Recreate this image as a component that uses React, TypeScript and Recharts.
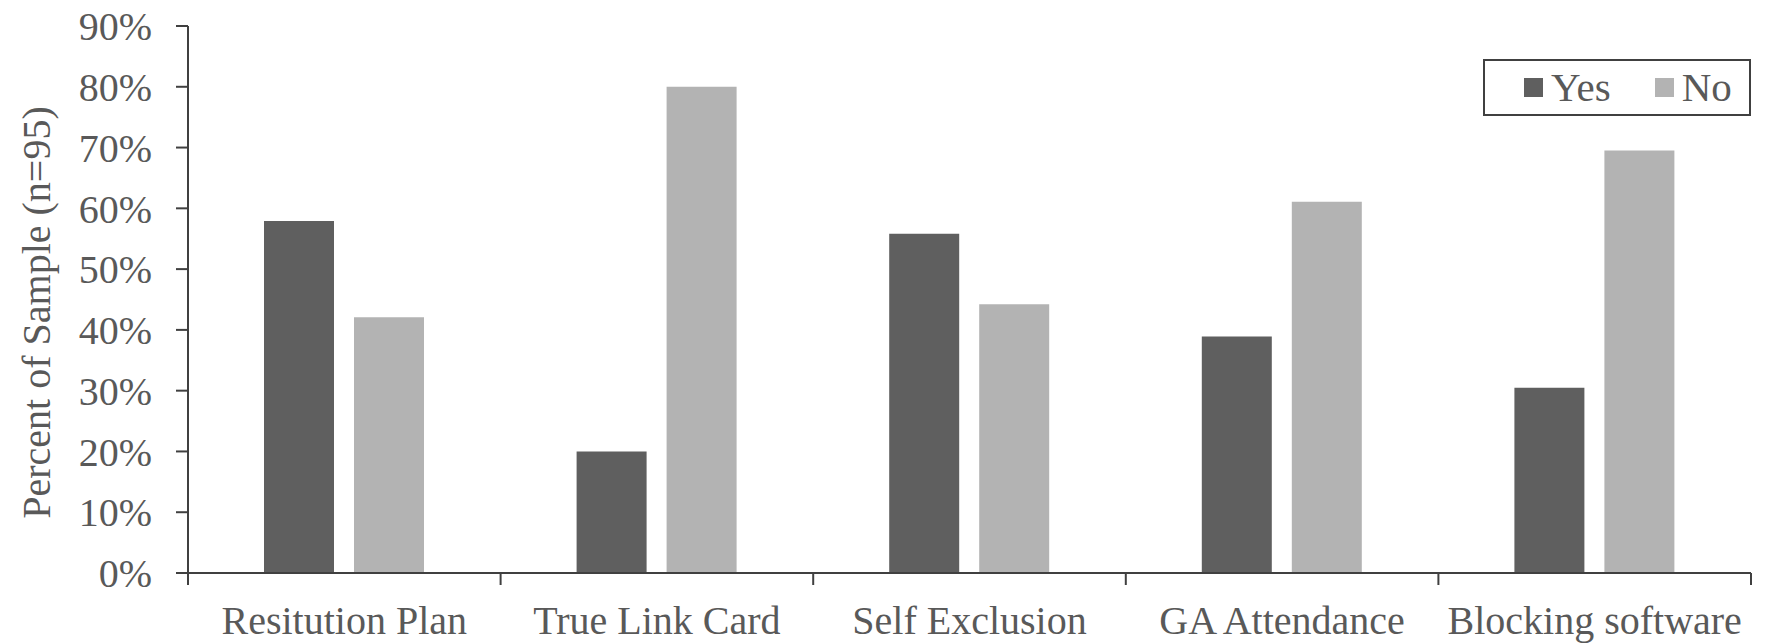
import { BarChart, Bar, XAxis, YAxis, Legend, Label } from "recharts";

const categories = [
  "Resitution Plan",
  "True Link Card",
  "Self Exclusion",
  "GA Attendance",
  "Blocking software",
];
const yes = [57.9, 20, 55.8, 38.9, 30.5];
const no = [42.1, 80, 44.2, 61.1, 69.5];
const seriesNames = ["Yes", "No"];
const percentTicks = [0, 10, 20, 30, 40, 50, 60, 70, 80, 90];

const data = categories.map((name, i) => ({ name, yes: yes[i], no: no[i] }));

const FONT = "'Liberation Serif', 'Times New Roman', serif";
const TEXT = "#595959";
const AXIS = "#404040";
const YES_FILL = "#5f5f5f";
const NO_FILL = "#b3b3b3";

// category label plus a tick mark on each band boundary
function CategoryTick(props: any) {
  const { x, y, payload, index, visibleTicksCount } = props;
  const half = payload.offset ?? 0;
  const left = x - half;
  const right = x + half;
  return (
    <g>
      <line x1={left} x2={left} y1={y} y2={y + 12} stroke={AXIS} strokeWidth={2} />
      {index === visibleTicksCount - 1 && (
        <line x1={right} x2={right} y1={y} y2={y + 12} stroke={AXIS} strokeWidth={2} />
      )}
      <text
        x={x}
        y={y + 33}
        dy="0.71em"
        textAnchor="middle"
        fill={TEXT}
        fontSize={40}
        fontFamily={FONT}
      >
        {payload.value}
      </text>
    </g>
  );
}

function LegendBox(props: any) {
  const items = (props.payload || [])
    .slice()
    .sort((a: any, b: any) => seriesNames.indexOf(a.value) - seriesNames.indexOf(b.value));
  return (
    <div
      style={{
        display: "flex",
        alignItems: "center",
        height: "100%",
        paddingLeft: 39,
        gap: 44,
        fontFamily: FONT,
        fontSize: 41,
        color: TEXT,
      }}
    >
      {items.map((p: any) => (
        <div key={p.value} style={{ display: "flex", alignItems: "center" }}>
          <span
            style={{
              display: "inline-block",
              width: 19,
              height: 19,
              background: p.color,
              marginRight: 8,
            }}
          />
          <span style={{ lineHeight: 1 }}>{p.value}</span>
        </div>
      ))}
    </div>
  );
}

export default function App() {
  return (
    <div style={{ position: "absolute", left: 0, top: 0, background: "#fff" }}>
      <BarChart
        width={1769}
        height={644}
        data={data}
        margin={{ top: 26, right: 18, bottom: 0, left: 0 }}
        barSize={70}
        barGap={20}
      >
        <XAxis
          dataKey="name"
          height={71}
          tickSize={0}
          tickMargin={0}
          axisLine={{ stroke: AXIS, strokeWidth: 2 }}
          tickLine={false}
          tick={<CategoryTick />}
          interval={0}
        />
        <YAxis
          width={188}
          domain={[0, 90]}
          ticks={percentTicks}
          tickFormatter={(v: number) => `${v}%`}
          tickSize={12}
          tickMargin={24}
          axisLine={{ stroke: AXIS, strokeWidth: 2 }}
          tickLine={{ stroke: AXIS, strokeWidth: 2 }}
          tick={{ fill: TEXT, fontSize: 40, fontFamily: FONT }}
          allowDataOverflow
        >
          <Label
            value="Percent of Sample (n=95)"
            angle={-90}
            position="center"
            dx={-58}
            dy={13}
            style={{ fill: TEXT, fontSize: 40, fontFamily: FONT, textAnchor: "middle" }}
          />
        </YAxis>
        <Legend
          layout="horizontal"
          verticalAlign="middle"
          align="center"
          content={<LegendBox />}
          wrapperStyle={{
            position: "absolute",
            left: 1483,
            top: 59,
            width: 268,
            height: 57,
            border: "2px solid #404040",
            boxSizing: "border-box",
            background: "#fff",
          }}
        />
        <Bar dataKey="yes" name="Yes" fill={YES_FILL} isAnimationActive={false} />
        <Bar dataKey="no" name="No" fill={NO_FILL} isAnimationActive={false} />
      </BarChart>
    </div>
  );
}
